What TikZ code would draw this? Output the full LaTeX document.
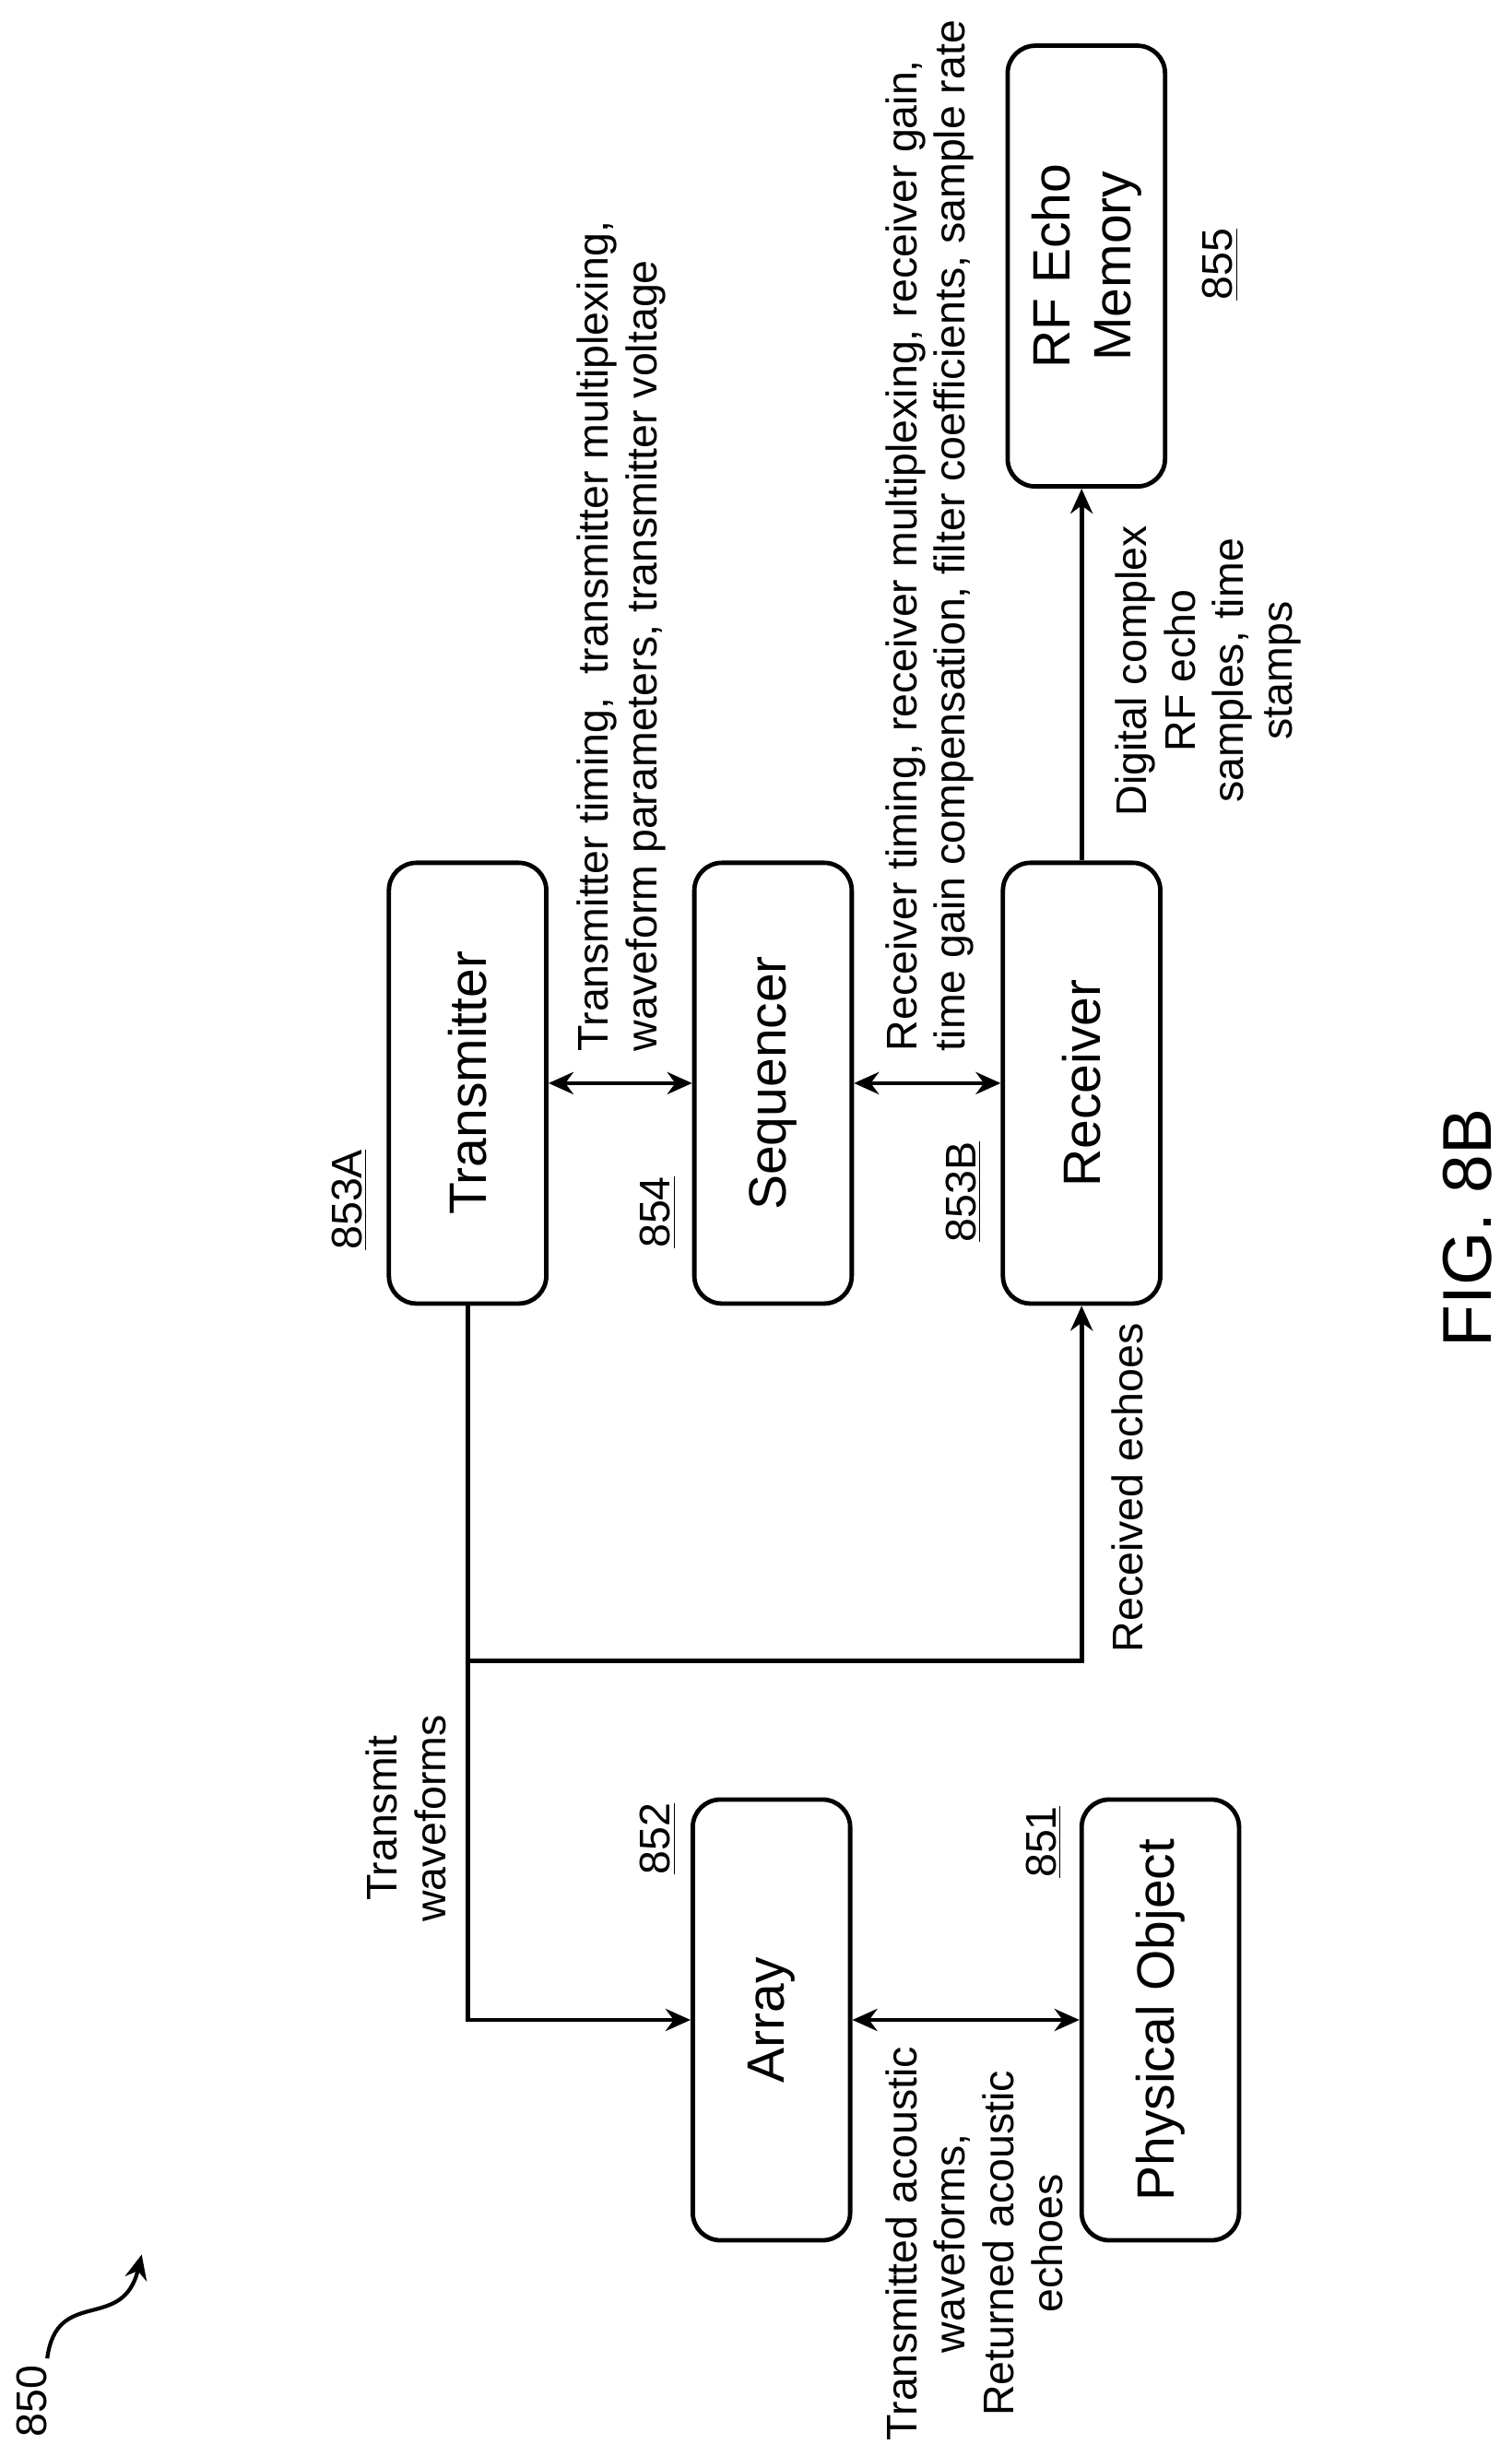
\documentclass[tikz,border=0pt]{standalone}
\usepackage{fontspec}
\setmainfont{Liberation Sans}
\usetikzlibrary{arrows.meta, positioning}

\tikzset{
  blk/.style={draw, line width=1.6pt, rounded corners=10pt, rotate=90,
    minimum width=5.6cm, minimum height=2cm, font=\fontsize{19}{22}\selectfont, align=center},
  lbl/.style={rotate=90, font=\fontsize{15.5}{17.6}\selectfont, inner sep=0pt},
  num/.style={rotate=90, font=\fontsize{15.5}{18}\selectfont, inner sep=0pt},
  con/.style={line width=1.6pt, -{Stealth[length=9pt,width=8pt]}},
  dcon/.style={line width=1.6pt, {Stealth[length=9pt,width=8pt]}-{Stealth[length=9pt,width=8pt]}}
}

\begin{document}
\begin{tikzpicture}[x=0.02cm, y=-0.02cm]
\useasboundingbox (0,0) rectangle (960,1560);

% Blocks
\node[blk] (tx) at (297,688) {Transmitter};
\node[blk] (seq) at (491,688) {Sequencer};
\node[blk] (rx) at (687,688) {Receiver};
\node[blk] (mem) at (690,169) {RF Echo\\Memory};
\node[blk] (arr) at (490,1283) {Array};
\node[blk] (obj) at (737,1283) {Physical Object};

% Reference numbers
\node[num] at (222,762) {\underline{853A}};
\node[num] at (418,770) {\underline{854}};
\node[num] at (612,757) {\underline{853B}};
\node[num] at (775,168) {\underline{855}};
\node[num] at (418,1168) {\underline{852}};
\node[num] at (663,1170) {\underline{851}};

% Control links
\draw[dcon] (tx.south) -- (seq.north);
\node[lbl, anchor=north west, align=left] at (366,668)
  {Transmitter timing,\ \ transmitter multiplexing,\\waveform parameters, transmitter voltage};
\draw[dcon] (seq.south) -- (rx.north);
\node[lbl, anchor=north west, align=left] at (562,668)
  {Receiver timing, receiver multiplexing, receiver gain,\\time gain compensation, filter coefficients, sample rate};

% Receiver to memory
\draw[con] (rx.east) -- (rx.east |- mem.west);
\node[lbl, anchor=north, align=center] at (708,426)
  {Digital complex\\RF echo\\samples, time\\stamps};

% Transmit and receive paths
\coordinate (j) at (297,1055);
\draw[con] (tx.west) |- (arr.north);
\draw[con] (j) -| (rx.west);
\node[lbl, anchor=center, align=center] at (258,1155) {Transmit\\waveforms};
\node[lbl, anchor=north] at (706,945) {Received echoes};

% Array to object
\draw[dcon] (arr.south) -- (obj.north);
\node[lbl, anchor=north, align=center] at (562,1425)
  {Transmitted acoustic\\waveforms,\\Returned acoustic\\echoes};

% Figure number
\node[num] (ref) at (20,1525) {850};
\coordinate (tip) at (90,1432);
\draw[line width=1.4pt, -{Stealth[length=9pt,width=8pt]}] (30,1498) .. controls (36,1452) and (78,1482) .. (tip);
\node[rotate=90, font=\fontsize{25}{28}\selectfont] (fig) at (932,780) {FIG. 8B};
\end{tikzpicture}
\end{document}
